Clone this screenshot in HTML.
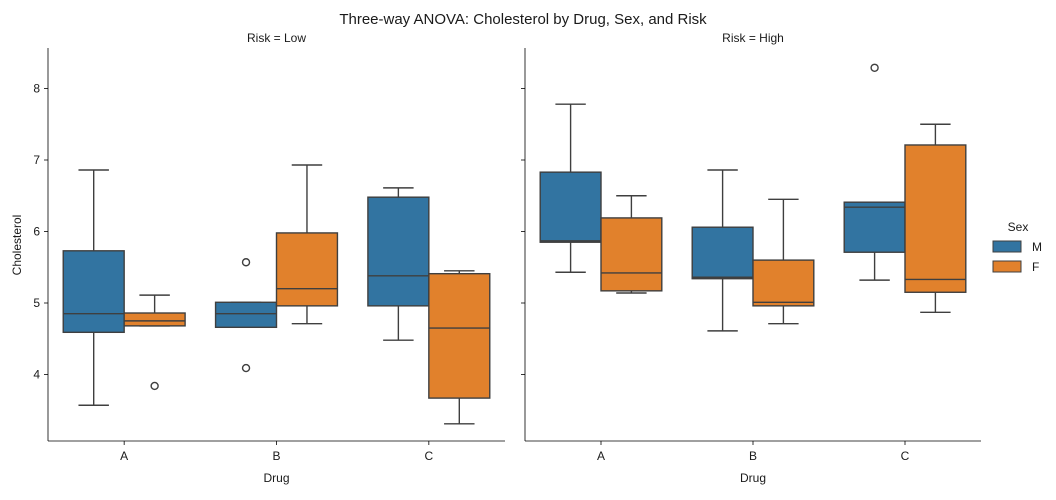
<!DOCTYPE html>
<html><head><meta charset="utf-8"><style>
body{margin:0;background:#fff;font-family:"Liberation Sans",sans-serif}
svg text{font-family:"Liberation Sans",sans-serif;fill:#1a1a1a}
</style></head><body>
<svg id="c" width="1056" height="495"></svg>
<script>
const drugs=["A","B","C"];
const sexes=["M","F"];
const panelsRisk=["Low","High"];
// [low whisker, q1, median, q3, high whisker] per risk -> drug -> sex
const lowM=[[3.57,4.59,4.85,5.73,6.86],[4.66,4.66,4.85,5.01,5.01],[4.48,4.96,5.38,6.48,6.61]];
const lowF=[[4.68,4.68,4.75,4.86,5.11],[4.71,4.96,5.20,5.98,6.93],[3.31,3.67,4.65,5.41,5.45]];
const highM=[[5.43,5.85,5.87,6.83,7.78],[4.61,5.34,5.36,6.06,6.86],[5.32,5.71,6.34,6.41,6.41]];
const highF=[[5.14,5.17,5.42,6.19,6.50],[4.71,4.96,5.01,5.60,6.45],[4.87,5.15,5.33,7.21,7.50]];
const lowMOut=[[],[5.57,4.09],[]];
const lowFOut=[[3.84],[],[]];
const highMOut=[[],[],[8.29]];
const highFOut=[[],[],[]];
const yTicks=[4,5,6,7,8];
const colors={M:"#3274a1",F:"#e1812c"};
const NS="http://www.w3.org/2000/svg";
const svg=document.getElementById("c");
function el(t,a,p){const e=document.createElementNS(NS,t);for(const k in a)e.setAttribute(k,a[k]);(p||svg).appendChild(e);return e;}
const y=v=>303-(v-5)*71.5;
const panels=[{x0:48,x1:505,M:lowM,F:lowF,MO:lowMOut,FO:lowFOut},{x0:525,x1:981,M:highM,F:highF,MO:highMOut,FO:highFOut}];
const yTop=20,yBot=441;
let t=el("text",{x:523,y:24,"font-size":15,"text-anchor":"middle"});t.textContent="Three-way ANOVA: Cholesterol by Drug, Sex, and Risk";


panels.forEach((p,pi)=>{
  const g=el("g",{});
  
  
  const w=(p.x1-p.x0)/3;
  const xc=i=>p.x0+w*(i+0.5);
  const tt=el("text",{x:(p.x0+p.x1)/2,y:42,"font-size":12,"text-anchor":"middle"},g);tt.textContent="Risk = "+panelsRisk[pi];
  
  
  el("line",{x1:p.x0,x2:p.x0,y1:yTop+28,y2:yBot,stroke:"#000","stroke-width":0.8},g);
  el("line",{x1:p.x0,x2:p.x1,y1:yBot,y2:yBot,stroke:"#000","stroke-width":0.8},g);
  yTicks.forEach(v=>{
    el("line",{x1:p.x0-4,x2:p.x0,y1:y(v),y2:y(v),stroke:"#000","stroke-width":0.8},g);
    if(pi==0){const l=el("text",{x:p.x0-8,y:y(v)+4,"font-size":12,"text-anchor":"end"},g);l.textContent=v;
      
      }
  });
  drugs.forEach((d,i)=>{
    el("line",{x1:xc(i),x2:xc(i),y1:yBot,y2:yBot+4,stroke:"#000","stroke-width":0.8},g);
    const l=el("text",{x:xc(i),y:yBot+19,"font-size":12,"text-anchor":"middle"},g);l.textContent=d;
    
    
    sexes.forEach((s,si)=>{
      const st=p[s][i], bw=w*0.4;
      const bx=xc(i)-w*0.4+si*bw, cx=bx+bw/2;
      const bg=el("g",{stroke:"#3f3f3f","stroke-width":1.4},g);
      
      
      el("line",{x1:cx,x2:cx,y1:y(st[0]),y2:y(st[1])},bg);
      el("line",{x1:cx,x2:cx,y1:y(st[3]),y2:y(st[4])},bg);
      el("line",{x1:cx-bw/4,x2:cx+bw/4,y1:y(st[0]),y2:y(st[0])},bg);
      el("line",{x1:cx-bw/4,x2:cx+bw/4,y1:y(st[4]),y2:y(st[4])},bg);
      el("rect",{x:bx,y:y(st[3]),width:bw,height:y(st[1])-y(st[3]),fill:colors[s]},bg);
      el("line",{x1:bx,x2:bx+bw,y1:y(st[2]),y2:y(st[2])},bg);
      p[s+"O"][i].forEach(o=>{const c=el("circle",{cx:cx,cy:y(o),r:3.5,fill:"none"},bg);
        
        });
    });
  });
  const xl=el("text",{x:(p.x0+p.x1)/2,y:482,"font-size":12,"text-anchor":"middle"},g);xl.textContent="Drug";
  
  
});
const yl=el("text",{x:21,y:245,"font-size":12,"text-anchor":"middle",transform:"rotate(-90 21 245)"});yl.textContent="Cholesterol";


const lg=el("g",{});


const lt=el("text",{x:1018,y:231,"font-size":12,"text-anchor":"middle"},lg);lt.textContent="Sex";
sexes.forEach((s,i)=>{
  const e=el("g",{},lg);
  
  
  el("rect",{x:993,y:241+i*20,width:28,height:11,fill:colors[s],stroke:"#3f3f3f","stroke-width":1},e);
  const tx=el("text",{x:1032,y:251+i*20,"font-size":12},e);tx.textContent=s;
});
</script>
</body></html>
